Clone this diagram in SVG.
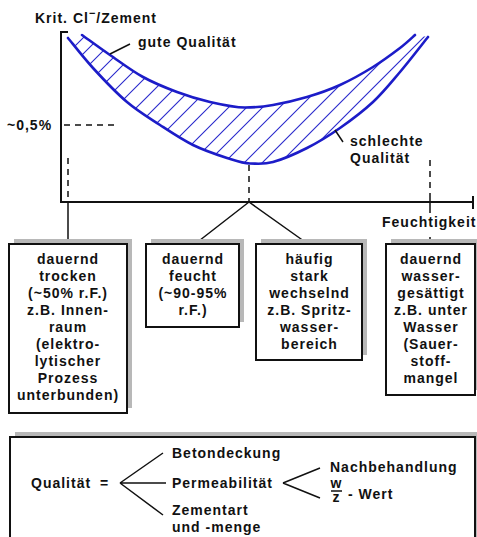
<svg xmlns="http://www.w3.org/2000/svg" width="477" height="537" viewBox="0 0 477 537">
<style>
.t{font-family:"Liberation Sans",Arial,Helvetica,sans-serif;font-weight:bold;font-size:14px;letter-spacing:1px;fill:#111}
.c{text-anchor:middle}
.ax{stroke:#111;stroke-width:2;fill:none}
.dash{stroke:#111;stroke-width:1.5;stroke-dasharray:6,5;fill:none}
.ln{stroke:#111;stroke-width:1.5;fill:none}
.curve{stroke:#1c1cc8;stroke-width:2.6;fill:none;stroke-linecap:round}
.hatch{stroke:#2a2acc;stroke-width:1.1}
.box{fill:#fff;stroke:#111;stroke-width:2}
.shadow{fill:#b8b8b8}
</style>
<defs>
<clipPath id="band">
<path d="M82,35 C86.7,38.3 99.8,48 110,55 C120.2,62 131.8,70.8 143,77 C154.2,83.2 165.8,87.8 177,92 C188.2,96.2 198.7,99.4 210,102 C221.3,104.6 234.5,107.5 245,107.5 C255.5,107.5 262.7,106.75 273,105 C283.3,103.25 295.8,100.3 307,97 C318.2,93.7 329,90 340,85 C351,80 363,73.2 373,67 C383,60.8 393,53.3 400,48 C407,42.7 412.5,37.2 415,35 L428,37 C423.3,42.8 409.2,61.2 400,72 C390.8,82.8 383,92.7 373,102 C363,111.3 351,120.3 340,128 C329,135.7 318.2,142.3 307,148 C295.8,153.7 282.5,159.4 273,162 C263.5,164.6 257.7,163.5 250,163.5 C242.3,163.5 236.5,161.1 227,158 C217.5,154.9 204.2,150.5 193,145 C181.8,139.5 171,132.2 160,125 C149,117.8 138.2,111.5 127,102 C115.8,92.5 102.8,78.7 93,68 C83.2,57.3 72.2,43 68,38 Z"/>
</clipPath>
</defs>

<!-- axes -->
<g id="axes">
<path class="ax" d="M61,31 V203 M61,32 H68 M60,202 H473 M473,196 V209"/>
<path class="dash" d="M64,125 H118"/>
<text class="t" x="7" y="130">~0,5%</text>
<text class="t" x="35" y="23">Krit. Cl<tspan font-size="11" dy="-6">−</tspan><tspan dy="6">/Zement</tspan></text>
<text class="t" x="382" y="227">Feuchtigkeit</text>
</g>

<!-- curves -->
<g id="band-area">
<g clip-path="url(#band)" class="hatch">
<path d="M-79,200 L141,-20 M-63,200 L157,-20 M-46,200 L174,-20 M-29,200 L191,-20 M-12,200 L208,-20 M5,200 L225,-20 M23,200 L243,-20 M44,200 L264,-20 M63,200 L283,-20 M80,200 L300,-20 M97,200 L317,-20 M116,200 L336,-20 M136,200 L356,-20 M154,200 L374,-20 M170,200 L390,-20 M187,200 L407,-20 M207,200 L427,-20 M225,200 L445,-20 M243,200 L463,-20 M261,200 L481,-20"/>
</g>
<path id="gute" class="curve" d="M82,35 C86.7,38.3 99.8,48 110,55 C120.2,62 131.8,70.8 143,77 C154.2,83.2 165.8,87.8 177,92 C188.2,96.2 198.7,99.4 210,102 C221.3,104.6 234.5,107.5 245,107.5 C255.5,107.5 262.7,106.75 273,105 C283.3,103.25 295.8,100.3 307,97 C318.2,93.7 329,90 340,85 C351,80 363,73.2 373,67 C383,60.8 393,53.3 400,48 C407,42.7 412.5,37.2 415,35"/>
<path id="schlechte" class="curve" d="M68,38 C72.2,43 83.2,57.3 93,68 C102.8,78.7 115.8,92.5 127,102 C138.2,111.5 149,117.8 160,125 C171,132.2 181.8,139.5 193,145 C204.2,150.5 217.5,154.9 227,158 C236.5,161.1 242.3,163.5 250,163.5 C257.7,163.5 263.5,164.6 273,162 C282.5,159.4 295.8,153.7 307,148 C318.2,142.3 329,135.7 340,128 C351,120.3 363,111.3 373,102 C383,92.7 390.8,82.8 400,72 C409.2,61.2 423.3,42.8 428,37"/>
<path class="ln" d="M110,54 L130,44 M335,130 L343,142"/>
<text class="t" x="138" y="47">gute Qualität</text>
<text class="t" x="350" y="146">schlechte</text>
<text class="t" x="350" y="163">Qualität</text>
</g>

<!-- connectors -->
<g id="connectors">
<path class="dash" d="M68,158 V202 M249,165 V202 M430,160 V197" stroke-dasharray="5,4"/>
<path class="ln" d="M68,202 V244 M249,202 L195,244 M249,202 L308,244 M430,197 V213 M430,237 V244"/>
</g>

<!-- boxes -->
<g id="box1">
<rect class="shadow" x="14" y="239" width="118" height="169"/>
<rect class="box" x="9" y="244" width="118" height="169"/>
<text class="t c" y="263.5"><tspan x="68">dauernd</tspan><tspan x="68" dy="17.1">trocken</tspan><tspan x="68" dy="17.1">(~50% r.F.)</tspan><tspan x="68" dy="17.1">z.B. Innen-</tspan><tspan x="68" dy="17.1">raum</tspan><tspan x="68" dy="17.1">(elektro-</tspan><tspan x="68" dy="17.1">lytischer</tspan><tspan x="68" dy="17.1">Prozess</tspan><tspan x="68" dy="17.1">unterbunden)</tspan></text>
</g>
<g id="box2">
<rect class="shadow" x="151" y="239" width="93" height="83"/>
<rect class="box" x="146" y="244" width="93" height="83"/>
<text class="t c" y="263.5"><tspan x="193">dauernd</tspan><tspan x="193" dy="17.1">feucht</tspan><tspan x="193" dy="17.1">(~90-95%</tspan><tspan x="193" dy="17.1">r.F.)</tspan></text>
</g>
<g id="box3">
<rect class="shadow" x="261" y="239" width="106" height="116"/>
<rect class="box" x="256" y="244" width="106" height="116"/>
<text class="t c" y="263.5"><tspan x="309.5">häufig</tspan><tspan x="309.5" dy="17.1">stark</tspan><tspan x="309.5" dy="17.1">wechselnd</tspan><tspan x="309.5" dy="17.1">z.B. Spritz-</tspan><tspan x="309.5" dy="17.1">wasser-</tspan><tspan x="309.5" dy="17.1">bereich</tspan></text>
</g>
<g id="box4">
<rect class="shadow" x="391" y="239" width="89" height="151"/>
<rect class="box" x="386" y="244" width="89" height="151"/>
<text class="t c" y="263.5"><tspan x="431">dauernd</tspan><tspan x="431" dy="17.1">wasser-</tspan><tspan x="431" dy="17.1">gesättigt</tspan><tspan x="431" dy="17.1">z.B. unter</tspan><tspan x="431" dy="17.1">Wasser</tspan><tspan x="431" dy="17.1">(Sauer-</tspan><tspan x="431" dy="17.1">stoff-</tspan><tspan x="431" dy="17.1">mangel</tspan></text>
</g>

<!-- quality box -->
<g id="box5">
<rect class="shadow" x="15" y="432" width="470" height="120"/>
<rect class="box" x="10" y="437" width="465" height="120"/>
<text class="t" x="31" y="488">Qualität</text>
<text class="t" x="100" y="488">=</text>
<path class="ln" d="M120,483 L163,453 M120,483 H166 M120,483 L163,515 M283,483 L320,468 M283,483 L320,498"/>
<text class="t" x="172" y="458">Betondeckung</text>
<text class="t" x="172" y="488">Permeabilität</text>
<text class="t" x="172" y="515">Zementart</text>
<text class="t" x="172" y="532">und -menge</text>
<text class="t" x="330" y="472">Nachbehandlung</text>
<text class="t c" x="336.5" y="487.5" font-size="8" letter-spacing="0">w</text>
<path class="ln" d="M331,491 H342"/>
<text class="t c" x="336.5" y="501.5" font-size="8" letter-spacing="0">z</text>
<text class="t" x="348" y="499">- Wert</text>
</g>
</svg>
